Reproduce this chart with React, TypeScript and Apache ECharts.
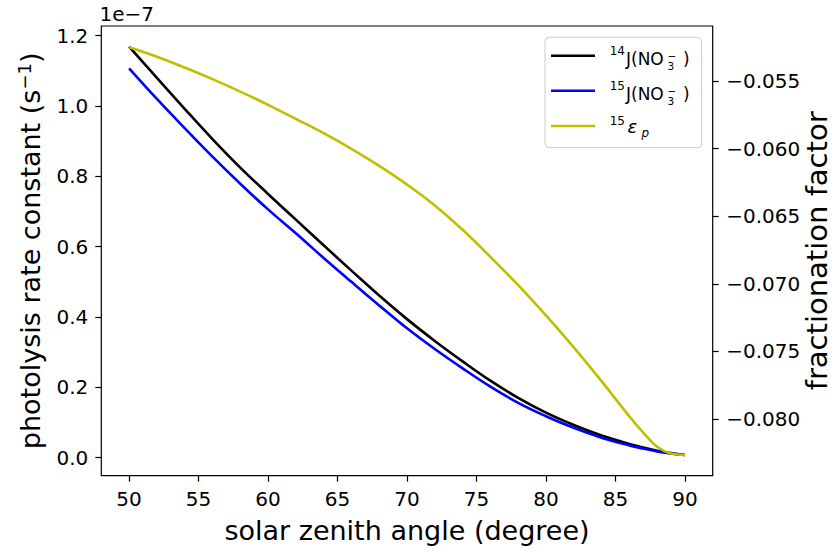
import React, { useEffect, useRef } from "react";
import * as echarts from "echarts";

// solar zenith angle (degree)
const SZA = [50, 52, 54, 56, 58, 60, 62, 64, 66, 68, 70, 72, 74, 76, 78, 80, 82, 84, 86, 87, 88, 89, 90];
// 14J(NO3-) photolysis rate constant, units of 1e-7 s^-1
const J14 = [1.169, 1.08, 0.992, 0.906, 0.825, 0.75, 0.677, 0.604, 0.532, 0.461, 0.394, 0.332, 0.274, 0.219, 0.17, 0.128, 0.093, 0.063, 0.039, 0.029, 0.02, 0.013, 0.0077];
// 15J(NO3-) photolysis rate constant, units of 1e-7 s^-1
const J15 = [1.107, 1.02, 0.937, 0.856, 0.779, 0.706, 0.638, 0.568, 0.5, 0.433, 0.368, 0.309, 0.254, 0.202, 0.156, 0.118, 0.085, 0.057, 0.035, 0.026, 0.018, 0.012, 0.0075];
// 15 epsilon_p fractionation factor
const EPS = [-0.0525, -0.0532, -0.054, -0.05486, -0.05578, -0.05676, -0.0578, -0.05886, -0.06002, -0.06128, -0.06266, -0.0642, -0.066, -0.068, -0.0701, -0.07234, -0.0747, -0.0772, -0.0798, -0.081, -0.08205, -0.08255, -0.08265];

const X_TICKS = [50, 55, 60, 65, 70, 75, 80, 85, 90];
const Y_TICKS = [0, 0.2, 0.4, 0.6, 0.8, 1.0, 1.2];
const Y2_TICKS = [-0.08, -0.075, -0.07, -0.065, -0.06, -0.055];

const FONT = "DejaVu Sans";
const MINUS = "\u2212";

export default function App() {
  const ref = useRef<HTMLDivElement>(null);
  useEffect(() => {
    if (!ref.current) return;
    const chart = echarts.init(ref.current, undefined, { renderer: "svg" });
    const axisTick = { show: true, inside: false, length: 6, lineStyle: { color: "#000", width: 1.2 } };
    const legendTextBase = { fill: "#000", fontFamily: FONT, verticalAlign: "middle", align: "left" };
    const row = (dy: number, mass: string) => [
      { type: "text", x: 609.7, y: 50.5 + dy, style: { ...legendTextBase, text: mass, fontSize: 12 } },
      { type: "text", x: 626, y: 58.8 + dy, style: { ...legendTextBase, text: "J(NO", fontSize: 17 } },
      {
        type: "text",
        x: 667.5,
        y: 61.05 + dy,
        style: { ...legendTextBase, text: MINUS + "\n3", fontSize: 10.5, lineHeight: 10.5 },
      },
      { type: "text", x: 683, y: 58.8 + dy, style: { ...legendTextBase, text: ")", fontSize: 17 } },
    ];
    const lineSeries = (name: string, ys: number[], color: string, yAxisIndex: number) => ({
      name,
      type: "line",
      yAxisIndex,
      data: SZA.map((x, i) => [x, ys[i]]),
      showSymbol: false,
      smooth: 0.4,
      lineStyle: { color, width: 2.6 },
      itemStyle: { color },
    });
    chart.setOption({
      animation: false,
      textStyle: { fontFamily: FONT, color: "#000" },
      grid: {
        left: 101.3,
        top: 26,
        right: 122.3,
        bottom: 76.3,
        show: true,
        borderColor: "#000",
        borderWidth: 1.2,
        backgroundColor: "transparent",
        containLabel: false,
        outerBoundsMode: "none",
      },
      xAxis: {
        type: "value",
        min: 48,
        max: 92,
        axisLine: { show: false, onZero: false },
        axisTick: { ...axisTick, customValues: X_TICKS },
        axisLabel: { customValues: X_TICKS, fontSize: 20, color: "#000", margin: 13, fontFamily: FONT },
        splitLine: { show: false },
        name: "solar zenith angle (degree)",
        nameLocation: "middle",
        nameGap: 41,
        nameMoveOverlap: false,
        nameTextStyle: { fontSize: 27, color: "#000", fontFamily: FONT },
      },
      yAxis: [
        {
          type: "value",
          position: "left",
          min: -0.0512,
          max: 1.2275,
          axisLine: { show: false, onZero: false },
          axisTick: { ...axisTick, customValues: Y_TICKS },
          axisLabel: {
            customValues: Y_TICKS,
            fontSize: 20,
            color: "#000",
            margin: 13,
            fontFamily: FONT,
            formatter: (v: number) => v.toFixed(1),
          },
          splitLine: { show: false },
          name: "{a|photolysis rate constant (s}{b|" + MINUS + "1}{a|)}",
          nameLocation: "middle",
          nameRotate: 90,
          nameGap: 55,
          nameMoveOverlap: false,
          nameTextStyle: {
            fontSize: 27,
            color: "#000",
            fontFamily: FONT,
            rich: {
              a: { fontSize: 27, color: "#000", fontFamily: FONT, lineHeight: 31 },
              b: { fontSize: 18, color: "#000", fontFamily: FONT, verticalAlign: "top", lineHeight: 18 },
            },
          },
        },
        {
          type: "value",
          position: "right",
          min: -0.08419,
          max: -0.05093,
          axisLine: { show: false, onZero: false },
          axisTick: { ...axisTick, customValues: Y2_TICKS },
          axisLabel: {
            customValues: Y2_TICKS,
            fontSize: 20,
            color: "#000",
            margin: 13.5,
            fontFamily: FONT,
            formatter: (v: number) => (v < 0 ? MINUS : "") + Math.abs(v).toFixed(3),
          },
          splitLine: { show: false },
          name: "fractionation factor",
          nameLocation: "middle",
          nameRotate: 90,
          nameGap: 90,
          nameMoveOverlap: false,
          nameTextStyle: { fontSize: 29, color: "#000", fontFamily: FONT },
        },
      ],
      series: [
        lineSeries("14J", J14, "#000000", 0),
        lineSeries("15J", J15, "#0000ff", 0),
        lineSeries("15eps", EPS, "#bfbf00", 1),
      ],
      graphic: [
        {
          type: "text",
          x: 99.5,
          y: 13.8,
          style: { text: "1e" + MINUS + "7", fontSize: 20, fill: "#000", fontFamily: FONT, verticalAlign: "middle" },
        },
        {
          type: "group",
          children: [
            {
              type: "rect",
              shape: { x: 545, y: 37.3, width: 156.7, height: 110.4, r: 4 },
              style: { fill: "rgba(255,255,255,0.8)", stroke: "#cccccc", lineWidth: 1 },
            },
            { type: "line", shape: { x1: 551, y1: 55.7, x2: 595, y2: 55.7 }, style: { stroke: "#000000", lineWidth: 2.6 } },
            { type: "line", shape: { x1: 551, y1: 90.7, x2: 595, y2: 90.7 }, style: { stroke: "#0000ff", lineWidth: 2.6 } },
            { type: "line", shape: { x1: 551, y1: 126, x2: 595, y2: 126 }, style: { stroke: "#bfbf00", lineWidth: 2.6 } },
            ...row(0, "14"),
            ...row(35, "15"),
            { type: "text", x: 609.7, y: 120.5, style: { ...legendTextBase, text: "15", fontSize: 12 } },
            { type: "text", x: 627.5, y: 126.5, style: { ...legendTextBase, text: "\u03b5", fontSize: 18, fontStyle: "italic" } },
            { type: "text", x: 641.5, y: 133.1, style: { ...legendTextBase, text: "p", fontSize: 12, fontStyle: "italic" } },
          ],
        },
      ],
    });
    return () => chart.dispose();
  }, []);
  return <div ref={ref} style={{ position: "absolute", left: 0, top: 0, width: 835, height: 552 }} />;
}
